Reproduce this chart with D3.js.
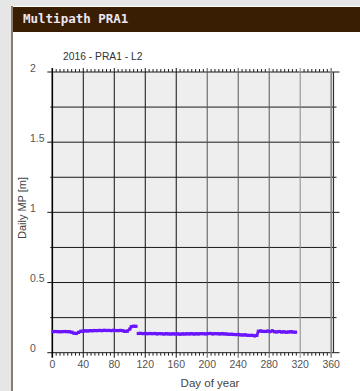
<!DOCTYPE html>
<html>
<head>
<meta charset="utf-8">
<script src="https://cdn.jsdelivr.net/npm/d3@7"></script>
<style>
  body { margin: 0; background: #e6e6e6; }
  svg { display: block; }
</style>
</head>
<body>
<script>
// data
const title = '2016 - PRA1 - L2'
const days = [1, 4, 7, 10, 13, 16, 19, 22, 25, 28, 31, 34, 37, 40, 43, 46, 49, 52, 55, 58,
  61, 64, 67, 70, 73, 76, 79, 82, 85, 88, 91, 94, 97, 100, 102, 105, 108, 110,
  111, 114, 117, 120, 123, 126, 129, 132, 135, 138, 141, 144, 147, 150, 153, 156, 159,
  162, 165, 168, 171, 174, 177, 180, 183, 186, 189, 192, 195, 198, 201, 204, 207, 210,
  213, 216, 219, 222, 225, 228, 231, 234, 237, 240, 243, 246, 249, 252, 255, 258, 261,
  264, 266, 269, 272, 275, 278, 281, 284, 287, 290, 293, 296, 299, 302, 305, 308, 311, 314]
const mp = [0.150, 0.151, 0.150, 0.149, 0.150, 0.151, 0.150, 0.149, 0.146, 0.139, 0.137, 0.145,
  0.153, 0.154, 0.156, 0.155, 0.157, 0.156, 0.158, 0.157, 0.159, 0.157, 0.160, 0.158, 0.159,
  0.157, 0.160, 0.158, 0.157, 0.159, 0.156, 0.152, 0.154, 0.168, 0.186, 0.189, 0.188, null,
  0.137, 0.138, 0.136, 0.137, 0.135, 0.137, 0.135, 0.137, 0.134, 0.136, 0.135, 0.133,
  0.136, 0.134, 0.133, 0.135, 0.133, 0.134, 0.132, 0.134, 0.133, 0.135, 0.134, 0.136,
  0.133, 0.135, 0.134, 0.136, 0.135, 0.134, 0.136, 0.137, 0.134, 0.136, 0.135, 0.134,
  0.136, 0.134, 0.133, 0.131, 0.132, 0.130, 0.129, 0.130, 0.127, 0.126, 0.127, 0.124,
  0.123, 0.124, 0.120, 0.123, 0.153, 0.155, 0.152, 0.151, 0.154, 0.150, 0.156, 0.149,
  0.148, 0.151, 0.147, 0.149, 0.146, 0.148, 0.150, 0.147, 0.146]
const yTicks = [0, 0.5, 1, 1.5, 2]
const xTicks = [0, 40, 80, 120, 160, 200, 240, 280, 320, 360]

const W = 360, H = 391
const svg = d3.select('body').append('svg')
  .attr('width', W)
  .attr('height', H)

// page + panel
svg.append('rect').attr('width', W).attr('height', H).attr('fill', '#e6e6e6')
svg.append('rect').attr('x', 11).attr('y', 6).attr('width', W - 11).attr('height', H - 6)
  .attr('fill', '#8a7b6c')
svg.append('rect').attr('x', 13).attr('y', 6).attr('width', W - 13).attr('height', H - 6)
  .attr('fill', '#ffffff')
svg.append('rect').attr('x', 13).attr('y', 7).attr('width', W - 13).attr('height', 25)
  .attr('fill', '#3a1e04')
svg.append('text')
  .attr('x', 23).attr('y', 23)
  .attr('font-family', 'DejaVu Sans Mono')
  .attr('font-weight', 'bold')
  .attr('font-size', 12.5)
  .attr('fill', '#ece6f2')
  .text('Multipath PRA1')

// scales
const x = d3.scaleLinear().domain([0, 363]).range([52.3, 333.5])
const y = d3.scaleLinear().domain([0, 2]).range([352.7, 72])

const g = svg.append('g')

g.append('rect')
  .attr('x', x(0)).attr('y', y(2))
  .attr('width', x(363) - x(0)).attr('height', y(0) - y(2))
  .attr('fill', '#eeeeee')

// horizontal grid every 0.25, with ticks out to the left and right
const yGrid = d3.range(0, 2.001, 0.25)
g.selectAll('.hgrid').data(yGrid).enter().append('line')
  .attr('x1', d => x(0) - (d % 0.5 === 0 ? 5 : 2))
  .attr('x2', d => x(363) + (d % 0.5 === 0 ? 6 : 3))
  .attr('y1', d => y(d)).attr('y2', d => y(d))
  .attr('stroke', '#1a1a1a').attr('stroke-width', 1)

// minor ticks every 5 days, top and bottom
const minor = d3.range(5, 363, 5).filter(d => d % 40 !== 0)
g.selectAll('.mb').data(minor).enter().append('line')
  .attr('x1', d => x(d)).attr('x2', d => x(d))
  .attr('y1', y(0)).attr('y2', y(0) + 3)
  .attr('stroke', '#222').attr('stroke-width', 1)
g.selectAll('.mt').data(minor).enter().append('line')
  .attr('x1', d => x(d)).attr('x2', d => x(d))
  .attr('y1', y(2) - 3).attr('y2', y(2))
  .attr('stroke', '#222').attr('stroke-width', 1)

// vertical grid at each labelled day
g.selectAll('.vgrid').data(xTicks).enter().append('line')
  .attr('x1', d => x(d)).attr('x2', d => x(d))
  .attr('y1', y(2) - 4).attr('y2', y(0) + 5)
  .attr('stroke', d => d === 0 ? '#000' : (d < 200 ? '#111' : (d < 300 ? '#555' : '#888')))
  .attr('stroke-width', d => d === 0 ? 1.6 : (d === 360 ? 1.6 : 1))

// right border
g.append('line')
  .attr('x1', x(363)).attr('x2', x(363))
  .attr('y1', y(2)).attr('y2', y(0))
  .attr('stroke', '#333').attr('stroke-width', 1.2)

// tick labels
g.selectAll('.ylab').data(yTicks).enter().append('text')
  .attr('x', 30).attr('y', d => y(d) - 0.5)
  .attr('font-family', 'Liberation Sans, Arial, sans-serif')
  .attr('font-size', 10.5)
  .attr('fill', '#555')
  .text(d => d)

g.selectAll('.xlab').data(xTicks).enter().append('text')
  .attr('x', d => x(d)).attr('y', 368)
  .attr('text-anchor', 'middle')
  .attr('font-family', 'Liberation Sans, Arial, sans-serif')
  .attr('font-size', 10.5)
  .attr('fill', '#555')
  .text(d => d)

// titles
svg.append('text')
  .attr('x', 63).attr('y', 59.5)
  .attr('font-family', 'Liberation Sans, Arial, sans-serif')
  .attr('font-size', 10.3)
  .attr('fill', '#333')
  .text(title)

svg.append('text')
  .attr('x', 210).attr('y', 387)
  .attr('text-anchor', 'middle')
  .attr('font-family', 'Liberation Sans, Arial, sans-serif')
  .attr('font-size', 11.5)
  .attr('fill', '#444')
  .text('Day of year')

svg.append('text')
  .attr('transform', 'translate(26,208) rotate(-90)')
  .attr('text-anchor', 'middle')
  .attr('font-family', 'Liberation Sans, Arial, sans-serif')
  .attr('font-size', 11)
  .attr('fill', '#444')
  .text('Daily MP [m]')

// series
const pts = days.map((d, i) => ({ day: d, v: mp[i] }))
const line = d3.line()
  .defined(d => d.v !== null)
  .x(d => x(d.day))
  .y(d => y(d.v))

g.append('path')
  .datum(pts)
  .attr('d', line)
  .attr('fill', 'none')
  .attr('stroke', '#6a14ff')
  .attr('stroke-width', 2.6)
  .attr('stroke-linejoin', 'round')

g.selectAll('.pt').data(pts.filter(d => d.v !== null)).enter().append('rect')
  .attr('x', d => x(d.day) - 1.6)
  .attr('y', d => y(d.v) - 1.6)
  .attr('width', 3.2).attr('height', 3.2)
  .attr('fill', '#6a14ff')
</script>
</body>
</html>
